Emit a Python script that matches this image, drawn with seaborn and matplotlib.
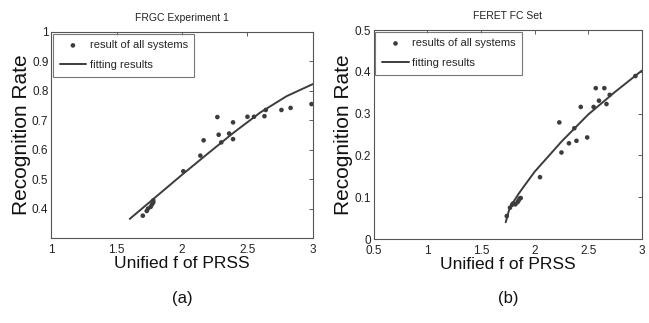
import matplotlib
matplotlib.use('Agg')
import matplotlib.pyplot as plt
import seaborn as sns
import pandas as pd
from matplotlib.ticker import FuncFormatter

# (a) FRGC Experiment 1
frgc_x = [1.70, 1.73, 1.74, 1.76, 1.77, 1.78, 1.78, 2.01, 2.14, 2.165, 2.27, 2.28, 2.30,
          2.36, 2.39, 2.39, 2.50, 2.55, 2.63, 2.64, 2.76, 2.83, 2.99]
frgc_y = [0.376, 0.392, 0.400, 0.406, 0.414, 0.421, 0.428, 0.527, 0.580, 0.632, 0.711, 0.651, 0.625,
          0.655, 0.693, 0.636, 0.712, 0.712, 0.714, 0.735, 0.735, 0.742, 0.755]
frgc_fit_x = [1.6, 1.8, 2.0, 2.2, 2.4, 2.6, 2.8, 3.0]
frgc_fit_y = [0.365, 0.44, 0.515, 0.588, 0.66, 0.727, 0.782, 0.823]

# (b) FERET FC Set
feret_x = [1.74, 1.77, 1.79, 1.80, 1.82, 1.84, 1.85, 1.86, 1.87, 2.05, 2.23, 2.25, 2.32,
           2.37, 2.39, 2.43, 2.49, 2.55, 2.57, 2.60, 2.65, 2.67, 2.70, 2.94]
feret_y = [0.055, 0.075, 0.082, 0.085, 0.083, 0.088, 0.092, 0.097, 0.098, 0.148, 0.279, 0.207, 0.229,
           0.265, 0.235, 0.316, 0.243, 0.316, 0.361, 0.331, 0.361, 0.323, 0.345, 0.390]
feret_fit_x = [1.73, 1.76, 1.8, 1.85, 1.9, 2.0, 2.25, 2.5, 2.75, 3.0]
feret_fit_y = [0.040, 0.068, 0.088, 0.108, 0.126, 0.161, 0.233, 0.298, 0.352, 0.403]

sns.set_style("white")
plt.rcParams['font.family'] = ['Liberation Sans', 'DejaVu Sans']

gray = '#3c3c3c'

fig = plt.figure(figsize=(6.49, 3.23), dpi=100)
ax1 = fig.add_axes([0.079, 0.263, 0.403, 0.638])
ax2 = fig.add_axes([0.576, 0.260, 0.413, 0.647])

panels = [
    (ax1, frgc_x, frgc_y, frgc_fit_x, frgc_fit_y, "FRGC Experiment 1", "result of all systems",
     (1, 3), (0.3, 1), [1, 1.5, 2, 2.5, 3], [0.4, 0.5, 0.6, 0.7, 0.8, 0.9, 1], "(a)"),
    (ax2, feret_x, feret_y, feret_fit_x, feret_fit_y, "FERET FC Set", "results of all systems",
     (0.5, 3), (0, 0.5), [0.5, 1, 1.5, 2, 2.5, 3], [0, 0.1, 0.2, 0.3, 0.4, 0.5], "(b)"),
]

for ax, px, py, fx, fy, title, lab, xl, yl, xt, yt, tag in panels:
    pts = pd.DataFrame({'x': px, 'y': py})
    fit = pd.DataFrame({'x': fx, 'y': fy})
    sns.scatterplot(data=pts, x='x', y='y', ax=ax, color=gray, s=11, edgecolor='none',
                    label=lab)
    sns.lineplot(data=fit, x='x', y='y', ax=ax, color=gray, linewidth=1.4,
                 label="fitting results")
    ax.set_xlim(*xl)
    ax.set_ylim(*yl)
    ax.set_xticks(xt)
    ax.set_yticks(yt)
    fmt = FuncFormatter(lambda v, p: '%g' % v)
    ax.xaxis.set_major_formatter(fmt)
    ax.yaxis.set_major_formatter(fmt)
    ax.tick_params(direction='in', length=3, width=0.6, labelsize=8.5, pad=2,
                   top=True, right=True, colors='#444444', labelcolor='#222222')
    ax.tick_params(axis='x', pad=4.5)
    for sp in ax.spines.values():
        sp.set_color('#555555')
        sp.set_linewidth(0.8)
    ax.set_title(title, fontsize=7.5, pad=8, color='#222222')
    ax.set_xlabel("Unified f of PRSS", fontsize=12.5, labelpad=0, color='#111111')
    ax.set_ylabel("Recognition Rate", fontsize=15, labelpad=1, color='#111111')
    leg = ax.legend(loc='upper left', fontsize=8, frameon=True, fancybox=False,
                    borderaxespad=0.15, handlelength=2.4, handletextpad=0.3,
                    borderpad=0.6, labelspacing=0.9, markerscale=1.0)
    leg.get_frame().set_edgecolor('#555555')
    leg.get_frame().set_linewidth(0.8)
    pos = ax.get_position()
    fig.text((pos.x0 + pos.x1) / 2, 1 - 298 / 323, tag, ha='center', va='center',
             fontsize=12, color='#111111')

fig.savefig("out.png", dpi=100)
plt.close(fig)
